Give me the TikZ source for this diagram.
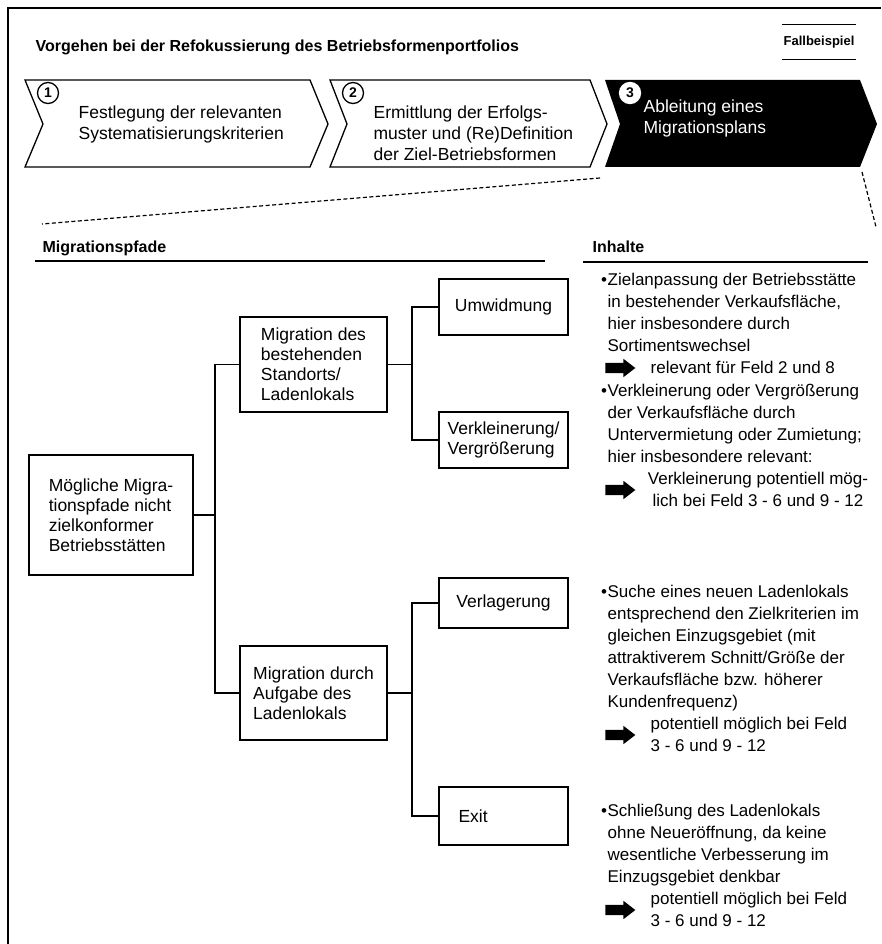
\documentclass[tikz,border=0pt]{standalone}
\usepackage{fontspec}
\setmainfont{Liberation Sans}
\usetikzlibrary{shapes.arrows}
\newcommand{\bul}{\llap{\textbullet\hspace{0.5pt}}}

\begin{document}
\begin{tikzpicture}[x=1pt, y=-1pt,
    line width=1.3pt,
    hdr/.style={font=\fontsize{16}{20}\selectfont\bfseries, anchor=base west, inner sep=0pt},
    chev/.style={draw=black, line width=1.3pt, line join=miter},
    chevtxt/.style={font=\fontsize{17.5}{21}\selectfont, align=left, anchor=west, inner sep=0pt},
    num/.style={circle, draw=black, line width=1.3pt, fill=white, text=black, inner sep=0pt,
                minimum size=21pt, font=\fontsize{14}{14}\selectfont\bfseries},
    pbox/.style={rectangle, draw=black, line width=1.3pt, fill=white,
                 minimum width=129pt, minimum height=56pt,
                 align=left, font=\fontsize{17.5}{20}\selectfont, inner sep=4pt},
    itxt/.style={font=\fontsize{17}{22}\selectfont, align=left, anchor=north west, inner sep=0pt},
    barr/.style={single arrow, fill=black, inner xsep=0pt, inner ysep=4.5pt,
                 minimum height=30pt, single arrow head extend=4pt,
                 single arrow tip angle=75},
    link/.style={line width=1.3pt},
    guide/.style={line width=1.2pt, dash pattern=on 4pt off 2.5pt},
  ]
    \useasboundingbox (0,0) rectangle (881,944);

    % frame
    \draw (8,944) -- (8,8) -- (881,8);

    % header
    \node[hdr] (title) at (35,52) {Vorgehen bei der Refokussierung des Betriebsformenportfolios};
    \node[font=\fontsize{13}{16}\selectfont\bfseries, minimum width=72pt, minimum height=34pt,
          inner sep=0pt] (fb) at (819,42) {Fallbeispiel};
    \draw (fb.north west) -- (fb.north east);
    \draw (fb.south west) -- (fb.south east);

    % steps
    \draw[chev] (25,80) -- (310,80) -- (328,124) -- (310,167) -- (25,167) -- (43,124) -- cycle;
    \draw[chev] (330,80) -- (590,80) -- (607,124) -- (590,167) -- (330,167) -- (347,124) -- cycle;
    \fill[black] (605,80) -- (860,80) -- (877,124) -- (860,167) -- (605,167) -- (620,124) -- cycle;

    \node[num] (n1) at (48,93) {1};
    \node[num] (n2) at (353,93) {2};
    \node[num, draw=white] (n3) at (630,93) {3};

    \node[chevtxt] (s1) at (78,124) {Festlegung der relevanten\\Systematisierungskriterien};
    \node[chevtxt] (s2) at (373,133) {Ermittlung der Erfolgs-\\muster und (Re)Definition\\der Ziel-Betriebsformen};
    \node[chevtxt, text=white] (s3) at (643,118) {Ableitung eines\\Migrationsplans};

    % zoom lines
    \draw[guide] (600,178) -- (42,224);
    \draw[guide] (862,172) -- (876,227);

    % column heads
    \node[hdr] (pfade) at (42,252) {Migrationspfade};
    \node[hdr] (inh) at (592,252) {Inhalte};
    \draw (35,261) -- (545,261);
    \draw (583,262) -- (868,262);

    % tree
    \node[pbox, minimum width=164pt, minimum height=120pt] (root) at (111,515)
        {Mögliche Migra-\\tionspfade nicht\\zielkonformer\\Betriebsstätten};
    \node[pbox, minimum width=147pt, minimum height=95pt] (mig1) at (313.5,364.5)
        {Migration des\\bestehenden\\Standorts/\\Ladenlokals};
    \node[pbox, minimum width=147pt, minimum height=94pt] (mig2) at (313.5,693)
        {Migration durch\\Aufgabe des\\Ladenlokals};
    \node[pbox] (umw) at (503.5,307) {Umwidmung};
    \node[pbox] (verk) at (503.5,440) {Verkleinerung/\\Vergrößerung};
    \node[pbox, minimum height=50pt] (verl) at (503.5,603) {Verlagerung};
    \node[pbox, minimum height=58pt, text width=90pt] (exit) at (503.5,816) {Exit};

    \coordinate (j1) at (215,515);
    \coordinate (j2) at (412,364.5);
    \coordinate (j3) at (412,693);
    \draw[link] (root.east) -- (j1);
    \draw[link] (mig1.west) -| (j1) |- (mig2.west);
    \draw[link] (mig1.east) -- (j2);
    \draw[link] (umw.west) -| (j2) |- (verk.west);
    \draw[link] (mig2.east) -- (j3);
    \draw[link] (verl.west) -| (j3) |- (exit.west);

    % contents
    \node[itxt] (c1) at (607,269.6) {\strut\bul Zielanpassung der Betriebsstätte\\in bestehender Verkaufsfläche,\\hier insbesondere durch\\Sortimentswechsel};
    \node[itxt] (r1) at (650,357.6) {\strut relevant für Feld 2 und 8};
    \node[barr] (a1) at (617,368) {};

    \node[itxt] (c2) at (607,380.6) {\strut\bul Verkleinerung oder Vergrößerung\\der Verkaufsfläche durch\\Untervermietung oder Zumietung;\\hier insbesondere relevant:};
    \node[itxt, align=center, anchor=north] (r2) at (758,468.6) {\strut Verkleinerung potentiell mög-\\lich bei Feld 3 - 6 und 9 - 12};
    \node[barr] (a2) at (617,490) {};

    \node[itxt] (c3) at (607,581.6) {\strut\bul Suche eines neuen Ladenlokals\\entsprechend den Zielkriterien im\\gleichen Einzugsgebiet (mit\\attraktiverem Schnitt/Größe der\\Verkaufsfläche bzw. höherer\\Kundenfrequenz)};
    \node[itxt] (r3) at (650,713.6) {\strut potentiell möglich bei Feld\\3 - 6 und 9 - 12};
    \node[barr] (a3) at (617,735) {};

    \node[itxt] (c4) at (607,800.6) {\strut\bul Schließung des Ladenlokals\\ohne Neueröffnung, da keine\\wesentliche Verbesserung im\\Einzugsgebiet denkbar};
    \node[itxt] (r4) at (650,888.6) {\strut potentiell möglich bei Feld\\3 - 6 und 9 - 12};
    \node[barr] (a4) at (617,910) {};
\end{tikzpicture}
\end{document}
